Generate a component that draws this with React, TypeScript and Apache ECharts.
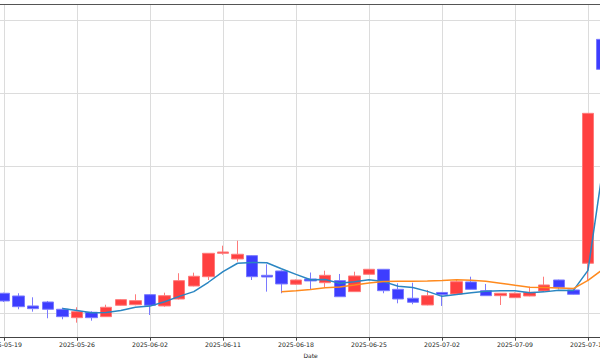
import React, { useEffect, useRef } from "react";
import * as echarts from "echarts";

const dates = [
  "2025-05-19", "2025-05-20", "2025-05-21", "2025-05-22", "2025-05-23",
  "2025-05-26", "2025-05-27", "2025-05-28", "2025-05-29", "2025-05-30",
  "2025-06-02", "2025-06-03", "2025-06-04", "2025-06-05", "2025-06-06",
  "2025-06-11", "2025-06-12", "2025-06-13", "2025-06-16", "2025-06-17",
  "2025-06-18", "2025-06-19", "2025-06-20", "2025-06-23", "2025-06-24",
  "2025-06-25", "2025-06-26", "2025-06-27", "2025-06-30", "2025-07-01",
  "2025-07-02", "2025-07-03", "2025-07-04", "2025-07-07", "2025-07-08",
  "2025-07-09", "2025-07-10", "2025-07-11", "2025-07-14", "2025-07-15",
  "2025-07-16", "2025-07-17",
];

const opens = [12.73, 12.36, 11.0, 11.54, 10.55, 9.4, 10.14, 9.54, 11.09, 11.17, 12.54, 11.0, 11.95, 13.72, 14.99, 18.18, 17.41, 17.86, 15.18, 15.77, 13.96, 14.68, 14.17, 14.45, 12.95, 15.32, 16.0, 13.27, 12.05, 11.13, 12.84, 12.63, 14.27, 13.08, 12.4, 12.13, 12.36, 13.04, 14.54, 13.18, 16.82, 47.36];
const closes = [11.68, 10.9, 10.63, 10.55, 9.54, 10.22, 9.4, 10.82, 11.86, 11.72, 11.09, 12.4, 14.45, 15.05, 18.18, 18.36, 18.05, 14.99, 14.95, 14.0, 14.54, 14.41, 15.18, 12.26, 15.09, 16.0, 13.08, 11.95, 11.5, 12.4, 12.56, 14.31, 13.27, 12.4, 12.73, 12.73, 12.86, 13.86, 13.55, 12.59, 37.27, 43.27];
const lows = [11.54, 10.55, 10.22, 9.32, 9.18, 8.72, 8.99, 9.51, 11.04, 11.09, 9.77, 10.9, 11.88, 13.68, 14.54, 17.99, 17.04, 14.54, 12.95, 12.73, 13.86, 13.25, 13.55, 12.22, 12.91, 15.29, 12.73, 11.36, 11.23, 11.09, 11.0, 12.5, 13.25, 12.36, 11.13, 12.09, 12.32, 13.0, 13.27, 12.54, 14.41, 42.91];
const highs = [12.81, 12.73, 12.18, 11.68, 10.76, 10.82, 10.27, 11.17, 11.95, 12.59, 12.59, 12.81, 15.46, 15.54, 18.22, 19.22, 19.9, 17.91, 16.68, 15.84, 14.61, 15.56, 15.81, 15.36, 15.67, 16.04, 16.04, 14.09, 14.17, 13.18, 12.91, 14.61, 14.99, 14.0, 12.77, 12.84, 13.63, 14.99, 14.58, 13.22, 37.31, 47.41];

const ma5: (number | string)[] = ["-", "-", "-", "-", 10.66, 10.37, 10.07, 10.11, 10.37, 10.81, 10.98, 11.58, 12.31, 12.95, 14.23, 15.69, 16.82, 16.93, 16.9, 16.07, 15.31, 14.58, 14.61, 14.08, 14.3, 14.58, 14.32, 13.68, 13.52, 12.99, 12.31, 12.55, 12.81, 13.0, 13.06, 13.08, 12.8, 12.92, 13.15, 13.12, 15.85, 29.57];
const ma20: (number | string)[] = ["-", "-", "-", "-", "-", "-", "-", "-", "-", "-", "-", "-", "-", "-", "-", "-", "-", "-", "-", 12.95, 13.08, 13.26, 13.49, 13.57, 13.85, 14.14, 14.32, 14.38, 14.36, 14.39, 14.47, 14.57, 14.51, 14.38, 14.11, 13.82, 13.56, 13.51, 13.44, 13.37, 14.5, 15.95];

export default function App() {
  const ref = useRef<HTMLDivElement>(null);
  useEffect(() => {
    if (!ref.current) return;
    const chart = echarts.init(ref.current, null, { renderer: "svg" });
    const cats = ["", ...dates, "", ""];
    const candle = [["-", "-", "-", "-"], ...dates.map((_, i) => [opens[i], closes[i], lows[i], highs[i]]), ["-", "-", "-", "-"], ["-", "-", "-", "-"]];
    const pad = (arr: (number | string)[]) => ["-", ...arr, "-", "-"];
    const every5 = (index: number) => index >= 1 && index <= dates.length && (index - 1) % 5 === 0;
    const font = "DejaVu Sans";
    chart.setOption({
      animation: false,
      backgroundColor: "#ffffff",
      grid: { left: -10.6, right: -31.8, top: 4.3, bottom: 23.3, containLabel: false, outerBoundsMode: "none" },
      xAxis: [
        {
          type: "category",
          data: cats,
          boundaryGap: false,
          axisLine: { show: true, lineStyle: { color: "#444", width: 1 } },
          axisTick: { show: true, interval: every5, length: 3, lineStyle: { color: "#444", width: 1 } },
          axisLabel: { show: true, interval: every5, fontSize: 6.2, color: "#222", fontFamily: font, margin: 4 },
          splitLine: { show: true, interval: every5, lineStyle: { color: "#dcdcdc", width: 1 } },
          name: "Date",
          nameLocation: "middle",
          nameGap: 12,
          nameTextStyle: { fontSize: 6, color: "#222", fontFamily: font },
        },
        {
          type: "category",
          data: cats,
          boundaryGap: false,
          position: "top",
          axisLine: { show: true, lineStyle: { color: "#555", width: 1 } },
          axisTick: { show: false },
          axisLabel: { show: false },
          splitLine: { show: false },
        },
      ],
      yAxis: {
        type: "value",
        min: 6.67,
        max: 52.14,
        splitNumber: 5,
        axisLine: { show: false },
        axisTick: { show: false },
        axisLabel: { show: false },
        splitLine: { show: true, lineStyle: { color: "#dcdcdc", width: 1 } },
      },
      series: [
        {
          type: "candlestick",
          data: candle,
          barWidth: 12,
          itemStyle: {
            color: "#ff4040",
            color0: "#3d3dff",
            borderColor: "#ff7a7a",
            borderColor0: "#7a7aff",
            borderWidth: 1,
          },
        },
        {
          type: "line",
          data: pad(ma5),
          symbol: "none",
          showSymbol: false,
          lineStyle: { color: "#2a86c2", width: 1.5 },
        },
        {
          type: "line",
          data: pad(ma20),
          symbol: "none",
          showSymbol: false,
          lineStyle: { color: "#ff8a1e", width: 1.5 },
        },
      ],
    });
    return () => chart.dispose();
  }, []);
  return <div ref={ref} style={{ position: "fixed", left: 0, top: 0, width: 600, height: 361 }} />;
}
